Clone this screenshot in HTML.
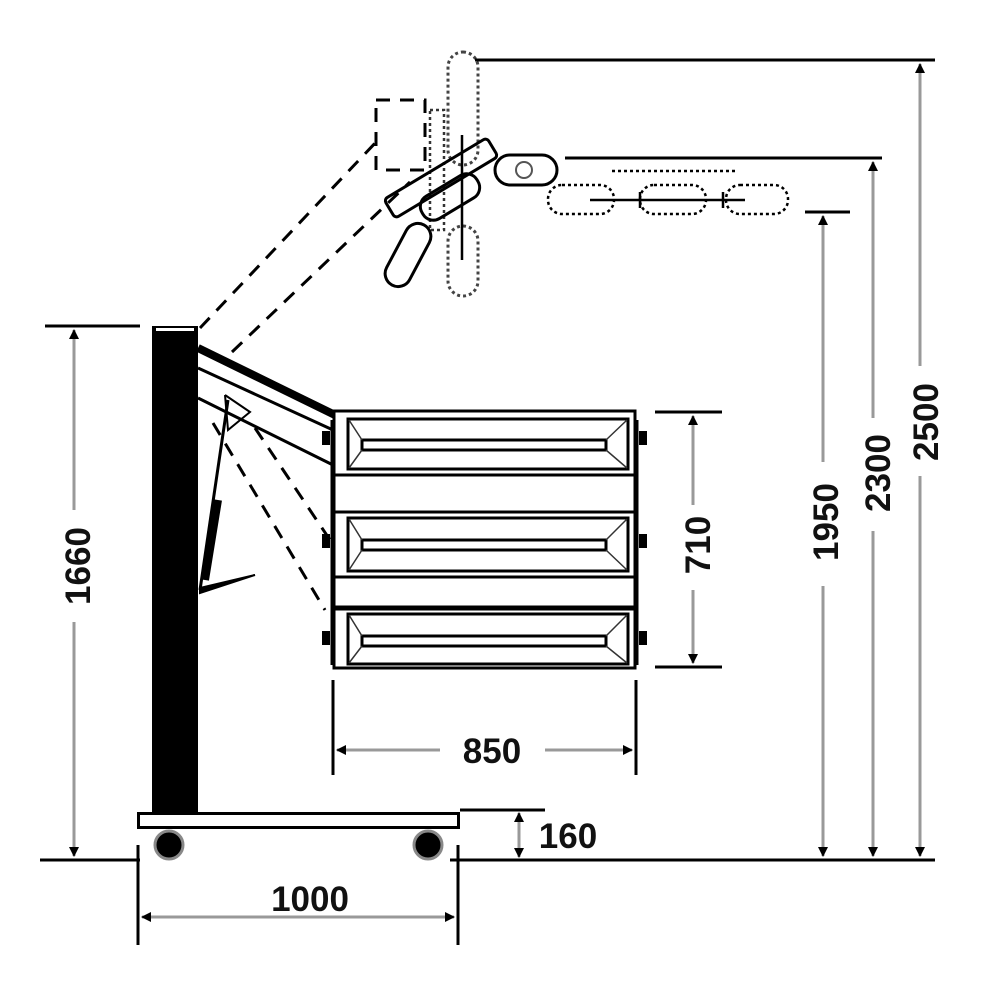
<!DOCTYPE html>
<html><head><style>html,body{margin:0;padding:0;background:#fff}svg{display:block}</style></head>
<body>
<svg width="1000" height="1000" viewBox="0 0 1000 1000" xmlns="http://www.w3.org/2000/svg" font-family="Liberation Sans, sans-serif">
<defs>
<marker id="a" markerWidth="10" markerHeight="10" refX="9" refY="5" orient="auto-start-reverse" markerUnits="userSpaceOnUse"><path d="M0,0 L10,5 L0,10 Z" fill="#000"/></marker>
</defs>
<rect width="1000" height="1000" fill="#fff"/>

<g fill="none" stroke="#000">
<rect x="376" y="100" width="49" height="70" stroke-width="3" stroke-dasharray="14,10"/>
<rect x="448" y="52" width="30" height="113" rx="15" stroke="#444" stroke-width="3" stroke-dasharray="3,3"/>
<rect x="448" y="226" width="30" height="70" rx="15" stroke="#444" stroke-width="3" stroke-dasharray="3,3"/>
<rect x="430" y="110" width="14" height="120" stroke="#333" stroke-width="2.5" stroke-dasharray="3,3"/>
<line x1="462" y1="135" x2="462" y2="260" stroke-width="2.5"/>
<rect x="-60" y="-11" width="120" height="22" rx="4" transform="translate(441,178) rotate(-31)" stroke-width="3"/>
<rect x="-32" y="-13" width="64" height="26" rx="12" transform="translate(450,197) rotate(-31)" stroke-width="3"/>
<rect x="-34" y="-13" width="68" height="26" rx="13" transform="translate(408,255) rotate(-62)" stroke-width="3"/>
<rect x="495" y="155" width="62" height="30" rx="15" stroke-width="3"/>
<circle cx="524" cy="170" r="8" stroke-width="2" stroke="#555"/>
<rect x="548" y="185" width="66" height="29" rx="14" stroke-width="2.5" stroke-dasharray="3,3"/>
<rect x="640" y="185" width="66" height="29" rx="14" stroke-width="2.5" stroke-dasharray="3,3"/>
<rect x="726" y="185" width="62" height="29" rx="14" stroke-width="2.5" stroke-dasharray="3,3"/>
<line x1="612" y1="171" x2="735" y2="171" stroke-width="2.5" stroke-dasharray="3,3"/>
<line x1="590" y1="200" x2="745" y2="200" stroke-width="2.5"/>
<line x1="640" y1="192" x2="640" y2="208" stroke-width="2.5"/>
<line x1="723" y1="192" x2="723" y2="208" stroke-width="2.5"/>
<line x1="200" y1="328" x2="378" y2="140" stroke-width="3" stroke-dasharray="14,10"/>
<line x1="232" y1="352" x2="410" y2="182" stroke-width="3" stroke-dasharray="14,10"/>
<line x1="213" y1="423" x2="325" y2="610" stroke-width="3" stroke-dasharray="14,10"/>
<line x1="255" y1="428" x2="330" y2="540" stroke-width="3" stroke-dasharray="14,10"/>
</g>

<rect x="152" y="326" width="46" height="489" fill="#000"/>
<rect x="156" y="328" width="38" height="3" fill="#fff"/>
<g stroke="#000" fill="none">
<line x1="198" y1="348" x2="335" y2="415" stroke-width="8"/>
<line x1="198" y1="368" x2="333" y2="430" stroke-width="3"/>
<line x1="198" y1="398" x2="333" y2="465" stroke-width="3"/>
<polyline points="225,395 250,412 228,430 225,395" stroke-width="2"/>
<line x1="228" y1="400" x2="200" y2="590" stroke-width="3"/>
<line x1="218" y1="500" x2="205" y2="580" stroke-width="8"/>
<path d="M200,588 L255,575 L200,593 Z" fill="#000" stroke-width="2"/>
</g>

<g stroke="#000" fill="#fff">
<rect x="334" y="411" width="301" height="257" stroke-width="3"/>
<line x1="334" y1="475" x2="635" y2="475" stroke-width="3"/>
<line x1="334" y1="512" x2="635" y2="512" stroke-width="3"/>
<line x1="334" y1="577" x2="635" y2="577" stroke-width="3"/>
<line x1="334" y1="608" x2="635" y2="608" stroke-width="5"/>
<line x1="333" y1="420" x2="333" y2="665" stroke-width="5"/>
<line x1="636" y1="420" x2="636" y2="665" stroke-width="5"/>
</g>
<g stroke="#000" fill="none" stroke-width="3">
<rect x="348" y="419" width="280" height="50"/>
<rect x="362" y="440" width="244" height="10"/>
<rect x="348" y="518" width="280" height="53"/>
<rect x="362" y="540" width="244" height="10"/>
<rect x="348" y="614" width="280" height="50"/>
<rect x="362" y="636" width="244" height="10"/>
</g>
<g stroke="#333" stroke-width="1.5">
<path d="M349,420 L362,440 M349,468 L362,450 M627,420 L606,440 M627,468 L606,450"/>
<path d="M349,519 L362,540 M349,570 L362,550 M627,519 L606,540 M627,570 L606,550"/>
<path d="M349,615 L362,636 M349,663 L362,646 M627,615 L606,636 M627,663 L606,646"/>
</g>
<g fill="#000">
<rect x="322" y="431" width="8" height="14"/><rect x="322" y="534" width="8" height="14"/><rect x="322" y="631" width="8" height="14"/>
<rect x="639" y="431" width="8" height="14"/><rect x="639" y="534" width="8" height="14"/><rect x="639" y="631" width="8" height="14"/>
</g>

<rect x="138.5" y="813.5" width="320" height="14" fill="#fff" stroke="#000" stroke-width="3"/>
<circle cx="169" cy="845" r="14" fill="#000" stroke="#888" stroke-width="3"/>
<circle cx="428" cy="845" r="14" fill="#000" stroke="#888" stroke-width="3"/>

<g stroke="#000" stroke-width="3">
<line x1="40" y1="860" x2="140" y2="860"/>
<line x1="450" y1="860" x2="935" y2="860"/>
<line x1="45" y1="326" x2="140" y2="326"/>
<line x1="138" y1="845" x2="138" y2="945"/>
<line x1="458" y1="845" x2="458" y2="945"/>
<line x1="460" y1="810" x2="545" y2="810"/>
<line x1="333" y1="680" x2="333" y2="775"/>
<line x1="636" y1="680" x2="636" y2="775"/>
<line x1="655" y1="412" x2="722" y2="412"/>
<line x1="655" y1="667" x2="722" y2="667"/>
<line x1="805" y1="212" x2="850" y2="212"/>
<line x1="565" y1="158" x2="882" y2="158"/>
<line x1="475" y1="60" x2="935" y2="60"/>
</g>
<g stroke="#999" stroke-width="3" marker-end="url(#a)">
<line x1="74" y1="510" x2="74" y2="330"/>
<line x1="74" y1="622" x2="74" y2="856"/>
<line x1="300" y1="917" x2="142" y2="917"/>
<line x1="300" y1="917" x2="454" y2="917"/>
<line x1="519" y1="835" x2="519" y2="813"/>
<line x1="519" y1="835" x2="519" y2="857"/>
<line x1="440" y1="750" x2="337" y2="750"/>
<line x1="545" y1="750" x2="632" y2="750"/>
<line x1="693" y1="505" x2="693" y2="416"/>
<line x1="693" y1="590" x2="693" y2="663"/>
<line x1="823" y1="462" x2="823" y2="216"/>
<line x1="823" y1="586" x2="823" y2="856"/>
<line x1="873" y1="418" x2="873" y2="162"/>
<line x1="873" y1="531" x2="873" y2="856"/>
<line x1="920" y1="366" x2="920" y2="64"/>
<line x1="920" y1="476" x2="920" y2="856"/>
</g>

<g fill="#111" font-size="35" font-weight="bold" text-anchor="middle">
<text x="310" y="911">1000</text>
<text x="568" y="848">160</text>
<text x="492" y="763">850</text>
<text transform="translate(710,545) rotate(-90)">710</text>
<text transform="translate(838,522) rotate(-90)">1950</text>
<text transform="translate(890,473) rotate(-90)">2300</text>
<text transform="translate(938,422) rotate(-90)">2500</text>
<text transform="translate(90,566) rotate(-90)">1660</text>
</g>
</svg>
</body></html>
